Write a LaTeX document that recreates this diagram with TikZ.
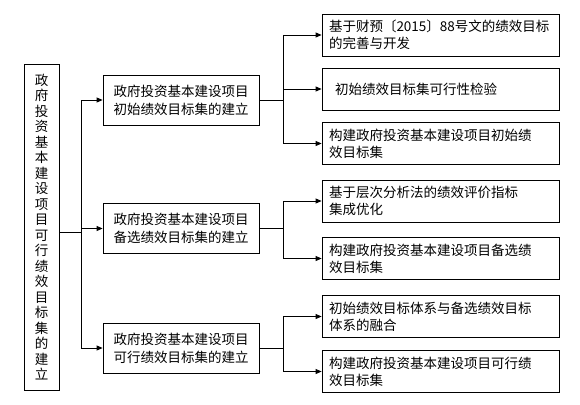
\documentclass[tikz,border=0pt]{standalone}
\usepackage{fontspec}
\newfontfamily\cjk{Noto Sans CJK SC}
\usetikzlibrary{arrows.meta}
\begin{document}
\begin{tikzpicture}[x=1pt,y=-1pt,
  box/.style={draw,line width=0.8pt,inner sep=0pt,font=\cjk\fontsize{13.5}{17}\selectfont},
  rootbox/.style={box,minimum width=35pt,minimum height=326pt,align=center,font=\cjk\fontsize{13.5}{15.5}\selectfont},
  midbox/.style={box,minimum width=156pt,minimum height=50pt,align=center,font=\cjk\fontsize{13.5}{18}\selectfont},
  leafbox/.style={box,inner xsep=7pt,text width=223pt,minimum height=42pt,align=left},
  link/.style={line width=0.8pt},
  arr/.style={link,-{Triangle[length=6pt,width=5pt]}}]
\useasboundingbox (0,0) rectangle (580,404);
\node[rootbox] (root) at (41.5,227) {政\\府\\投\\资\\基\\本\\建\\设\\项\\目\\可\\行\\绩\\效\\目\\标\\集\\的\\建\\立};
\node[midbox] (init) at (181,100) {政府投资基本建设项目\\初始绩效目标集的建立};
\node[midbox] (alt) at (181,228.5) {政府投资基本建设项目\\备选绩效目标集的建立};
\node[midbox] (feas) at (181,348) {政府投资基本建设项目\\可行绩效目标集的建立};
\node[leafbox] (initA) at (440.5,35) {基于财预〔2015〕88号文的绩效目标\\的完善与开发};
\node[leafbox] (initB) at (440.5,89) {\hspace*{6pt}初始绩效目标集可行性检验};
\node[leafbox] (initC) at (440.5,143.5) {构建政府投资基本建设项目初始绩\\效目标集};
\node[leafbox] (altA) at (440.5,201) {基于层次分析法的绩效评价指标\\集成优化};
\node[leafbox] (altB) at (440.5,258.5) {构建政府投资基本建设项目备选绩\\效目标集};
\node[leafbox] (feasA) at (440.5,316.5) {初始绩效目标体系与备选绩效目标\\体系的融合};
\node[leafbox] (feasB) at (440.5,371.5) {构建政府投资基本建设项目可行绩\\效目标集};
\coordinate (trunk) at (81,232);
\draw[link] (root.east |- trunk) -- (trunk);
\draw[link] (trunk |- init) -- (trunk |- feas);
\draw[arr] (trunk |- init) -- (init);
\draw[arr] (trunk |- alt) -- (alt);
\draw[arr] (trunk |- feas) -- (feas);
\draw[link] (init.east) -- ++(24,0) coordinate (s1);
\draw[link] (s1 |- initA) -- (s1 |- initC);
\draw[arr] (s1 |- initA) -- (initA);
\draw[arr] (s1 |- initB) -- (initB);
\draw[arr] (s1 |- initC) -- (initC);
\draw[link] (alt.east) -- ++(24,0) coordinate (s2);
\draw[link] (s2 |- altA) -- (s2 |- altB);
\draw[arr] (s2 |- altA) -- (altA);
\draw[arr] (s2 |- altB) -- (altB);
\draw[link] (feas.east) -- ++(24,0) coordinate (s3);
\draw[link] (s3 |- feasA) -- (s3 |- feasB);
\draw[arr] (s3 |- feasA) -- (feasA);
\draw[arr] (s3 |- feasB) -- (feasB);
\end{tikzpicture}
\end{document}
